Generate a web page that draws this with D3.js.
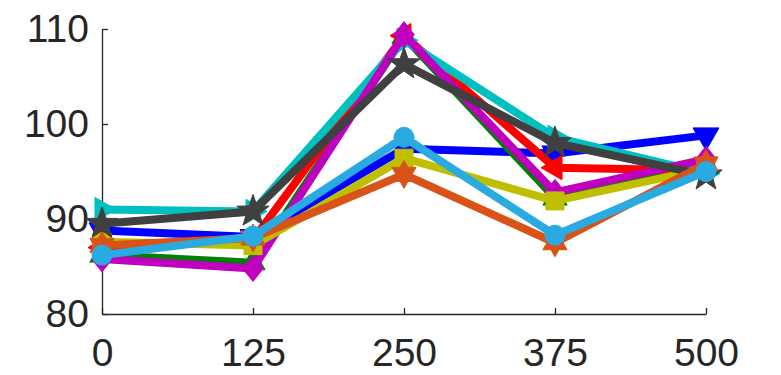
<!DOCTYPE html>
<html>
<head>
<meta charset="utf-8">
<script src="https://cdn.jsdelivr.net/npm/d3@7"></script>
<style>
  body { margin: 0; background: #fff; }
  svg { display: block; }
</style>
</head>
<body>
<div id="chart"><svg width="781" height="375"></svg></div>
<script>
// Data
var xValues = [0, 125, 250, 375, 500];
var xTicks = [0, 125, 250, 375, 500];
var yTicks = [80, 90, 100, 110];

var blueValues      = [88.8, 88.1, 97.4, 96.9, 98.8];
var greenValues     = [86.2, 85.4, 109.2, 92.2, 95.5];
var redValues       = [87.0, 87.8, 109.3, 95.4, 95.1];
var cyanValues      = [91.0, 90.8, 108.8, 98.6, 94.8];
var magentaValues   = [85.8, 84.8, 109.4, 92.8, 96.3];
var oliveValues     = [87.6, 87.2, 96.4, 91.9, 95.3];
var grayValues      = [89.5, 90.8, 106.3, 98.0, 94.6];
var orangeValues    = [87.2, 88.0, 94.7, 87.5, 95.8];
var lightBlueValues = [86.2, 88.2, 98.6, 88.3, 95.0];

// Globals
var Left = 102, Right = 706, Top = 29, Bottom = 314;
var LineW = 8;
var TextColor = "#262626";

// marker shapes, "size" is used as a radius
function polygonSymbol(points)  {
  return {
    draw: function(ctx, r) {
      points.forEach(function(p, i) {
        if (i === 0) ctx.moveTo(p[0] * r, p[1] * r);
        else ctx.lineTo(p[0] * r, p[1] * r);
      });
      ctx.closePath();
    }
  };
};

function starPoints(n, inner, rotation)  {
  var pts = [];
  for (var i = 0; i < n * 2; i++) {
    var a = rotation + i * Math.PI / n;
    var rr = (i % 2 === 0) ? 1 : inner;
    pts.push([Math.sin(a) * rr, -Math.cos(a) * rr]);
  }
  return pts;
};

function trianglePoints(angle)  {
  // angle = direction the tip points to
  var pts = [];
  for (var i = 0; i < 3; i++) {
    var a = angle + i * 2 * Math.PI / 3;
    pts.push([Math.cos(a), Math.sin(a)]);
  }
  return pts;
};

var Markers = {
  down:     { type: polygonSymbol(trianglePoints(Math.PI / 2)), r: 15 },
  up:       { type: polygonSymbol(trianglePoints(-Math.PI / 2)), r: 14 },
  left:     { type: polygonSymbol(trianglePoints(Math.PI)), r: 14 },
  right:    { type: polygonSymbol(trianglePoints(0)), r: 14 },
  diamond:  { type: polygonSymbol([[0, -1], [0.8, 0], [0, 1], [-0.8, 0]]), r: 13 },
  square:   { type: polygonSymbol([[-1, -1], [1, -1], [1, 1], [-1, 1]]), r: 9 },
  star:     { type: polygonSymbol(starPoints(5, 0.4, 0)), r: 17 },
  hexagram: { type: polygonSymbol(starPoints(6, 0.577, 0)), r: 14 },
  circle:   { type: { draw: function(ctx, r) { ctx.moveTo(r, 0); ctx.arc(0, 0, r, 0, 2 * Math.PI); } }, r: 10 }
};

var Series = [
  { name: "blue",      values: blueValues,      color: "#0000FF", marker: "down" },
  { name: "green",     values: greenValues,     color: "#008000", marker: "up" },
  { name: "red",       values: redValues,       color: "#FF0000", marker: "left" },
  { name: "cyan",      values: cyanValues,      color: "#00BFBF", marker: "right" },
  { name: "magenta",   values: magentaValues,   color: "#BF00BF", marker: "diamond" },
  { name: "olive",     values: oliveValues,     color: "#BFBF00", marker: "square" },
  { name: "gray",      values: grayValues,      color: "#404040", marker: "star" },
  { name: "orange",    values: orangeValues,    color: "#D95319", marker: "hexagram" },
  { name: "lightblue", values: lightBlueValues, color: "#29ABE2", marker: "circle" }
];

var x = d3.scaleLinear().domain([0, 500]).range([Left, Right]);
var y = d3.scaleLinear().domain([80, 110]).range([Bottom, Top]);

function getSVG()  {
  return d3.select('#chart svg');
};

function makeAxes()  {
  var svg = getSVG();

  var xAxis = d3.axisBottom(x).tickValues(xTicks).tickSize(-6).tickSizeOuter(0).tickPadding(24);
  var yAxis = d3.axisLeft(y).tickValues(yTicks).tickSize(-6).tickSizeOuter(0).tickPadding(13);

  var gx = svg.append("g").attr("transform", "translate(0," + Bottom + ")").call(xAxis);
  var gy = svg.append("g").attr("transform", "translate(" + Left + ",0)").call(yAxis);

  [gx, gy].forEach(function(g) {
    g.select(".domain").attr("stroke", TextColor).attr("stroke-width", 1.3);
    g.selectAll(".tick line").attr("stroke", TextColor).attr("stroke-width", 1.3);
    g.selectAll(".tick text")
      .attr("fill", TextColor)
      .style("font", "39px 'Liberation Sans', Arial, sans-serif");
  });
  gx.selectAll(".tick text").attr("dy", "0.71em");
};

function makeSeries()  {
  var svg = getSVG();
  var line = d3.line()
    .x(function(d, i) { return x(xValues[i]); })
    .y(function(d) { return y(d); });

  Series.forEach(function(s) {
    var g = svg.append("g").attr("class", "series " + s.name);
    g.append("path")
      .attr("d", line(s.values))
      .attr("fill", "none")
      .attr("stroke", s.color)
      .attr("stroke-width", LineW)
      .attr("stroke-linejoin", "round");

    var m = Markers[s.marker];
    var symbol = d3.symbol().type(m.type).size(m.r);
    g.selectAll("path.marker")
      .data(s.values)
      .enter()
      .append("path")
        .attr("class", "marker")
        .attr("d", symbol)
        .attr("transform", function(d, i) { return "translate(" + x(xValues[i]) + "," + y(d) + ")"; })
        .attr("fill", s.color)
        .attr("stroke", s.color)
        .attr("stroke-width", 1);
  });
};

makeAxes();
makeSeries();
</script>
</body>
</html>
